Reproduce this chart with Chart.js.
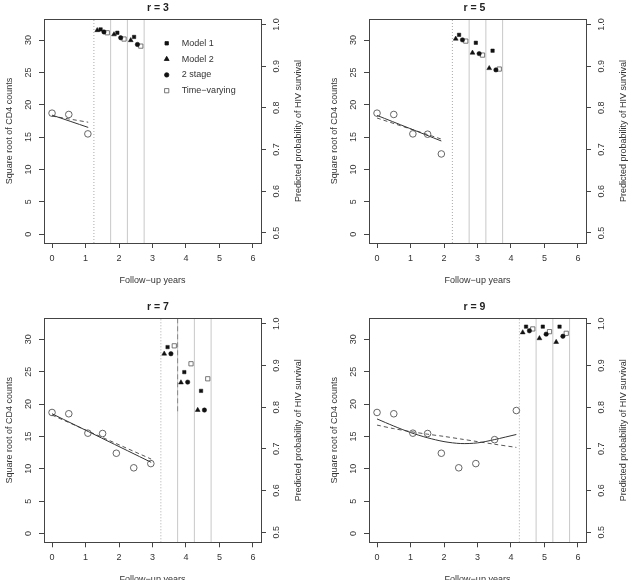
<!DOCTYPE html>
<html>
<head>
<meta charset="utf-8">
<script src="https://cdn.jsdelivr.net/npm/chart.js@4.4.1/dist/chart.umd.min.js"></script>
<style>
  html, body { margin: 0; padding: 0; background: #fff; overflow: hidden; width: 633px; height: 580px; }
  .panel { position: absolute; }
</style>
</head>
<body>
<div class="panel" style="left:0;top:0"><canvas id="p3" width="316" height="290"></canvas></div>
<div class="panel" style="left:316px;top:0"><canvas id="p5" width="317" height="290"></canvas></div>
<div class="panel" style="left:0;top:290px"><canvas id="p7" width="316" height="300"></canvas></div>
<div class="panel" style="left:316px;top:290px"><canvas id="p9" width="317" height="300"></canvas></div>
<script>
// Observed square root CD4 counts of the patient
const obsYears = [0, 0.5, 1.07, 1.51, 1.92, 2.44, 2.95, 3.51, 4.16];
const obsSqrtCD4 = [18.7, 18.5, 15.5, 15.45, 12.4, 10.15, 10.8, 14.5, 19.0];

// One panel per number of measurements r
const panelR = [3, 5, 7, 9];
const landmarkYears = [1.25, 2.25, 3.25, 4.25];
const horizonYears = [0.5, 1.0, 1.5];

// Fitted trajectories (solid and dashed)
const fitYears = [
    [0, 1.08],
    [0, 1.92],
    [0, 2.96],
    [0, 0.5, 1, 1.5, 2, 2.5, 3, 3.5, 4.16]
];
const fitSolid = [
    [18.4, 16.5],
    [18.35, 14.4],
    [18.5, 11.0],
    [17.7, 16.6, 15.6, 14.8, 14.2, 13.9, 14.0, 14.5, 15.3]
];
const fitDashed = [
    [18.25, 17.3],
    [17.95, 14.7],
    [18.3, 11.5],
    [16.75, 16.2, 15.75, 15.35, 15.0, 14.6, 14.2, 13.8, 13.3]
];

// Predicted probability of HIV survival, one row per panel, one value per horizon
const model1 = [
    [0.988, 0.980, 0.970],
    [0.975, 0.956, 0.937],
    [0.944, 0.884, 0.839],
    [0.993, 0.993, 0.993]
];
const model2 = [
    [0.986, 0.976, 0.962],
    [0.9655, 0.932, 0.895],
    [0.928, 0.859, 0.793],
    [0.979, 0.965, 0.956]
];
const twoStage = [
    [0.982, 0.968, 0.952],
    [0.963, 0.930, 0.891],
    [0.928, 0.860, 0.793],
    [0.983, 0.975, 0.970]
];
const timeVarying = [
    [0.980, 0.965, 0.948],
    [0.960, 0.9265, 0.893],
    [0.947, 0.904, 0.868],
    [0.9875, 0.981, 0.977]
];
// where each model sits left of its horizon line (years)
const modelShift = { model1: -0.3, model2: -0.4, twoStage: -0.2, timeVarying: -0.1 };

// dashed reference segment in the r = 7 panel
const r7Marker = { year: 3.75, lowest: 0.79 };

// axis limits and ticks
const X_MIN = -0.24, X_MAX = 6.24;
const Y_MIN = -1.36, Y_MAX = 33.25;
const P_MIN = 0.476, P_MAX = 1.013;
const xTickStep = 1, yTickStep = 5, pTickStep = 0.1;

const FONT = '"Liberation Sans", Arial, Helvetica, sans-serif';
Chart.defaults.font.family = FONT;
Chart.defaults.font.size = 9;
Chart.defaults.color = '#333';

const layouts = [
    { id: 'p3', w: 316, h: 290, box: [44, 19, 261, 243], titlePad: [2, 4.4], yTitlePad: 4.6, xTitlePad: 3.6, legend: true },
    { id: 'p5', w: 317, h: 290, box: [53, 19, 270, 243], titlePad: [2, 4.4], yTitlePad: 13.2, xTitlePad: 3.6, legend: false },
    { id: 'p7', w: 316, h: 300, box: [44, 28.3, 261, 252.3], titlePad: [10.4, 5.3], yTitlePad: 4.6, xTitlePad: 4.6, legend: false },
    { id: 'p9', w: 317, h: 300, box: [53, 28.3, 270, 252.3], titlePad: [10.4, 5.3], yTitlePad: 13.2, xTitlePad: 4.6, legend: false }
];

const legendItems = [
    { text: 'Model 1', style: 'rect', radius: 2.4, fill: '#111', stroke: '#111' },
    { text: 'Model 2', style: 'triangle', radius: 2.8, fill: '#111', stroke: '#111' },
    { text: '2 stage', style: 'circle', radius: 2.2, fill: '#111', stroke: '#111' },
    { text: 'Time\u2212varying', style: 'rect', radius: 3, fill: 'rgba(0,0,0,0)', stroke: '#555' }
];

// box, right axis title and legend
const framePlugin = {
    id: 'frame',
    afterDraw(chart, args, opts) {
        const { ctx, chartArea: a } = chart;
        ctx.save();
        ctx.strokeStyle = '#444';
        ctx.lineWidth = 1;
        ctx.strokeRect(Math.round(a.left) + 0.5, Math.round(a.top) + 0.5,
            Math.round(a.right - a.left), Math.round(a.bottom - a.top));

        ctx.save();
        ctx.translate(a.right + 38, (a.top + a.bottom) / 2);
        ctx.rotate(-Math.PI / 2);
        ctx.font = '9px ' + FONT;
        ctx.fillStyle = '#333';
        ctx.textAlign = 'center';
        ctx.textBaseline = 'middle';
        ctx.fillText('Predicted probability of HIV survival', 0, 0);
        ctx.restore();

        if (opts.legend) {
            const x0 = a.left + 122.7, y0 = a.top + 24.3, dy = 15.8;
            legendItems.forEach((it, i) => {
                const y = y0 + i * dy;
                ctx.fillStyle = it.fill;
                ctx.strokeStyle = it.stroke;
                ctx.lineWidth = 0.8;
                Chart.helpers.drawPoint(ctx, { pointStyle: it.style, radius: it.radius, rotation: 0, borderWidth: 0.8 }, x0, y);
                ctx.font = '9px ' + FONT;
                ctx.fillStyle = '#333';
                ctx.textAlign = 'left';
                ctx.textBaseline = 'middle';
                ctx.fillText(it.text, x0 + 15, y);
            });
        }
        ctx.restore();
    }
};

function pts(xs, ys) {
    return xs.map((x, i) => ({ x: x, y: ys[i] }));
}

function survPts(values, p, shift) {
    return values[p].map((v, k) => ({ x: landmarkYears[p] + horizonYears[k] + shift, y: v }));
}

function vline(year, color, dash) {
    return {
        data: [{ x: year, y: Y_MIN }, { x: year, y: Y_MAX }],
        yAxisID: 'y', showLine: true, pointRadius: 0,
        borderColor: color, borderWidth: 1, borderDash: dash
    };
}

function buildPanel(p) {
    const L = layouts[p];
    const n = panelR[p];
    const datasets = [
        {
            data: pts(obsYears.slice(0, n), obsSqrtCD4.slice(0, n)),
            yAxisID: 'y', pointStyle: 'circle', pointRadius: 3.3,
            backgroundColor: 'rgba(0,0,0,0)', borderColor: '#555', borderWidth: 0.9
        },
        {
            data: pts(fitYears[p], fitSolid[p]),
            yAxisID: 'y', showLine: true, pointRadius: 0, tension: 0.3,
            borderColor: '#333', borderWidth: 1
        },
        {
            data: pts(fitYears[p], fitDashed[p]),
            yAxisID: 'y', showLine: true, pointRadius: 0, tension: 0.3,
            borderColor: '#555', borderWidth: 1, borderDash: [4, 3]
        },
        {
            data: survPts(model1, p, modelShift.model1),
            yAxisID: 'y2', pointStyle: 'rect', pointRadius: 2.4,
            backgroundColor: '#111', borderColor: '#111', borderWidth: 0.5
        },
        {
            data: survPts(model2, p, modelShift.model2),
            yAxisID: 'y2', pointStyle: 'triangle', pointRadius: 2.8,
            backgroundColor: '#111', borderColor: '#111', borderWidth: 0.5
        },
        {
            data: survPts(twoStage, p, modelShift.twoStage),
            yAxisID: 'y2', pointStyle: 'circle', pointRadius: 2.2,
            backgroundColor: '#111', borderColor: '#111', borderWidth: 0.5
        },
        {
            data: survPts(timeVarying, p, modelShift.timeVarying),
            yAxisID: 'y2', pointStyle: 'rect', pointRadius: 3,
            backgroundColor: 'rgba(0,0,0,0)', borderColor: '#555', borderWidth: 0.8
        }
    ];
    if (n === 7) {
        datasets.push({
            data: [{ x: r7Marker.year, y: P_MAX }, { x: r7Marker.year, y: r7Marker.lowest }],
            yAxisID: 'y2', showLine: true, pointRadius: 0,
            borderColor: '#888', borderWidth: 1, borderDash: [5, 3]
        });
    }
    horizonYears.forEach(h => datasets.push(vline(landmarkYears[p] + h, '#c8c8c8', [])));
    datasets.push(vline(landmarkYears[p], '#aaa', [1, 2]));

    new Chart(document.getElementById(L.id), {
        type: 'scatter',
        data: { datasets: datasets },
        plugins: [framePlugin],
        options: {
            responsive: false,
            animation: false,
            events: [],
            layout: { padding: 0 },
            plugins: {
                legend: { display: false },
                tooltip: { enabled: false },
                title: {
                    display: true,
                    text: 'r = ' + n,
                    color: '#222',
                    font: { size: 10.5, weight: 'bold' },
                    padding: { top: L.titlePad[0], bottom: L.titlePad[1] }
                },
                frame: { legend: L.legend }
            },
            scales: {
                x: {
                    type: 'linear', position: 'bottom', min: X_MIN, max: X_MAX,
                    afterFit: s => { s.height = L.h - L.box[3]; },
                    ticks: { stepSize: xTickStep, includeBounds: false, padding: 5, color: '#333', maxRotation: 0 },
                    grid: { drawOnChartArea: false, tickLength: 5, color: '#444' },
                    border: { display: false },
                    title: { display: true, text: 'Follow\u2212up years', color: '#333', padding: { top: 0, bottom: L.xTitlePad } }
                },
                y: {
                    type: 'linear', position: 'left', min: Y_MIN, max: Y_MAX,
                    afterFit: s => { s.width = L.box[0]; },
                    ticks: { stepSize: yTickStep, includeBounds: false, padding: 5, minRotation: 90, maxRotation: 90, crossAlign: 'center', color: '#333' },
                    grid: { drawOnChartArea: false, tickLength: 5, color: '#444' },
                    border: { display: false },
                    title: { display: true, text: 'Square root of CD4 counts', color: '#333', padding: { top: L.yTitlePad, bottom: 0 } }
                },
                y2: {
                    type: 'linear', position: 'right', min: P_MIN, max: P_MAX,
                    afterFit: s => { s.width = L.w - L.box[2]; },
                    ticks: {
                        stepSize: pTickStep, includeBounds: false, padding: 4.5, minRotation: 90, maxRotation: 90, crossAlign: 'center', color: '#333',
                        callback: v => v.toFixed(1)
                    },
                    grid: { drawOnChartArea: false, tickLength: 5, color: '#444' },
                    border: { display: false }
                }
            }
        }
    });
}

panelR.forEach((r, p) => buildPanel(p));
</script>
</body>
</html>
